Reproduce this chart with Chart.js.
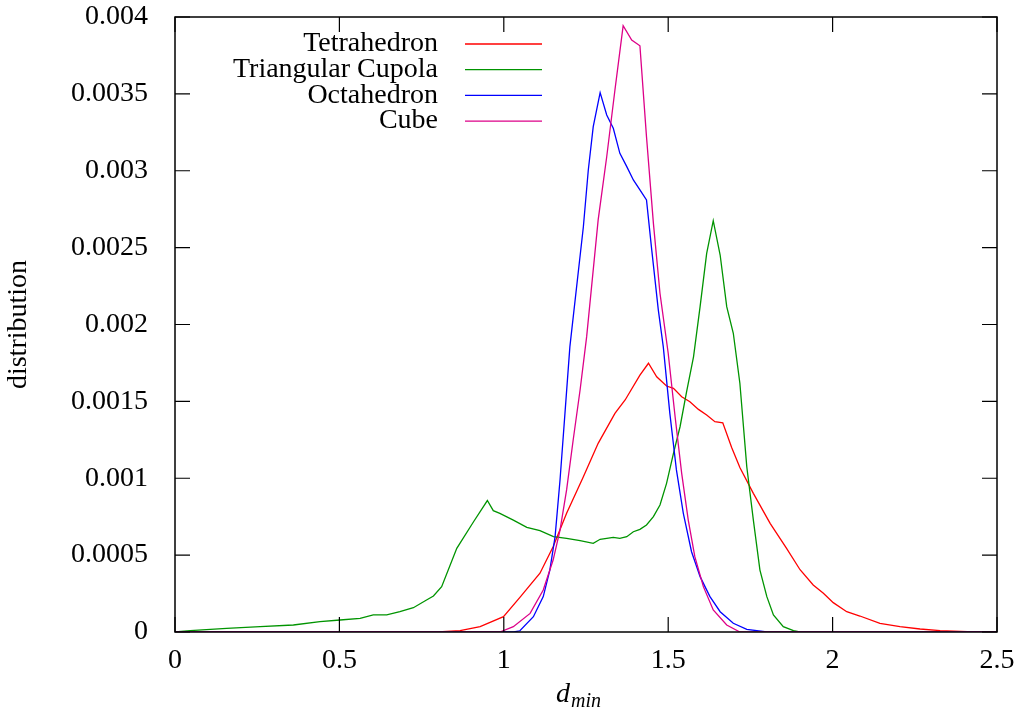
<!DOCTYPE html>
<html>
<head>
<meta charset="utf-8">
<script src="https://cdn.jsdelivr.net/npm/chart.js@4"></script>
<style>
  html, body { margin: 0; padding: 0; background: #fff; }
  canvas { display: block; }
</style>
</head>
<body>
<canvas id="chart" width="1021" height="713"></canvas>
<script>
// values
const tetraX = [0, 0.80, 0.867, 0.928, 0.999, 1.049, 1.110, 1.150, 1.191, 1.242, 1.287, 1.338, 1.369, 1.414, 1.440, 1.465, 1.495, 1.516, 1.541, 1.566, 1.592, 1.617, 1.642, 1.666, 1.693, 1.718, 1.759, 1.810, 1.860, 1.901, 1.941, 1.972, 2.002, 2.043, 2.083, 2.144, 2.205, 2.266, 2.327, 2.41, 2.5];
const tetraY = [0, 0, 0.0000085, 0.0000345, 0.0001, 0.000225, 0.000382, 0.000555, 0.000772, 0.00101, 0.001227, 0.001422, 0.001509, 0.001671, 0.001748, 0.00166, 0.0016, 0.001585, 0.00153, 0.001498, 0.001448, 0.001411, 0.001368, 0.001361, 0.0012, 0.00107, 0.000902, 0.000707, 0.000544, 0.000405, 0.000306, 0.000252, 0.000191, 0.000132, 0.000104, 0.0000566, 0.0000345, 0.0000195, 0.0000085, 0.000002, 0];

const cupolaX = [0, 0.046, 0.157, 0.259, 0.360, 0.441, 0.502, 0.563, 0.603, 0.644, 0.684, 0.725, 0.765, 0.786, 0.811, 0.857, 0.908, 0.950, 0.968, 0.988, 1.029, 1.070, 1.110, 1.151, 1.191, 1.232, 1.272, 1.293, 1.333, 1.353, 1.374, 1.394, 1.414, 1.434, 1.455, 1.475, 1.495, 1.516, 1.536, 1.556, 1.577, 1.597, 1.617, 1.637, 1.658, 1.678, 1.698, 1.718, 1.739, 1.759, 1.779, 1.800, 1.820, 1.850, 1.881, 1.90, 2.5];
const cupolaY = [0, 0.0000085, 0.000024, 0.0000345, 0.0000455, 0.000067, 0.000078, 0.000089, 0.000111, 0.000111, 0.000132, 0.000158, 0.000208, 0.000234, 0.000295, 0.000544, 0.000717, 0.000855, 0.000789, 0.000772, 0.000728, 0.000681, 0.000659, 0.00062, 0.000609, 0.000594, 0.000577, 0.000603, 0.000616, 0.000609, 0.00062, 0.000652, 0.000668, 0.000696, 0.00075, 0.000826, 0.000967, 0.001162, 0.001335, 0.001563, 0.00179, 0.002116, 0.002463, 0.002675, 0.002452, 0.002116, 0.001943, 0.001618, 0.001075, 0.000728, 0.000403, 0.00023, 0.000111, 0.0000345, 0.0000085, 0, 0];

const octaX = [0, 1.03, 1.049, 1.090, 1.120, 1.140, 1.156, 1.171, 1.186, 1.201, 1.242, 1.257, 1.272, 1.293, 1.313, 1.333, 1.353, 1.374, 1.394, 1.414, 1.434, 1.450, 1.470, 1.485, 1.505, 1.525, 1.546, 1.571, 1.597, 1.627, 1.658, 1.698, 1.739, 1.80, 2.5];
const octaY = [0, 0, 0.000008, 0.0000995, 0.00023, 0.000403, 0.00062, 0.000989, 0.001422, 0.001856, 0.002636, 0.003005, 0.003287, 0.003508, 0.003363, 0.003276, 0.003113, 0.003027, 0.00294, 0.002875, 0.00281, 0.002484, 0.002094, 0.001856, 0.001422, 0.001054, 0.000772, 0.000522, 0.00036, 0.00023, 0.000132, 0.0000566, 0.0000176, 0, 0];

const cubeX = [0, 0.988, 1.029, 1.080, 1.120, 1.150, 1.171, 1.191, 1.211, 1.232, 1.252, 1.287, 1.313, 1.338, 1.363, 1.389, 1.414, 1.434, 1.455, 1.475, 1.500, 1.521, 1.541, 1.561, 1.581, 1.607, 1.637, 1.678, 1.718, 2.5];
const cubeY = [0, 0, 0.0000345, 0.000121, 0.000273, 0.000468, 0.000663, 0.000924, 0.001249, 0.001574, 0.001921, 0.00268, 0.003091, 0.003525, 0.003943, 0.00385, 0.003813, 0.003221, 0.002658, 0.002203, 0.001813, 0.0014, 0.001032, 0.000728, 0.00049, 0.000295, 0.000143, 0.0000455, 0, 0];

const seriesNames = ['Tetrahedron', 'Triangular Cupola', 'Octahedron', 'Cube'];
const seriesColors = ['#ff0000', '#009400', '#0000ff', '#dd0088'];

const xTicks = [0, 0.5, 1, 1.5, 2, 2.5];
const yTicks = [0, 0.0005, 0.001, 0.0015, 0.002, 0.0025, 0.003, 0.0035, 0.004];

const FONT = '"Liberation Serif", "Times New Roman", serif';

const toPoints = (xs, ys) => xs.map((x, i) => ({ x, y: ys[i] }));
const allX = [tetraX, cupolaX, octaX, cubeX];
const allY = [tetraY, cupolaY, octaY, cubeY];

// gnuplot-ish frame, inward ticks, key and x label
const gnuplotDecor = {
  id: 'gnuplotDecor',
  afterDraw(chart) {
    const { ctx, chartArea: a, scales } = chart;
    const tl = 15;
    ctx.save();
    ctx.strokeStyle = '#000';
    ctx.lineWidth = 1.5;
    ctx.strokeRect(a.left, a.top, a.right - a.left, a.bottom - a.top);

    ctx.lineWidth = 1.2;
    ctx.beginPath();
    for (const v of xTicks) {
      const px = scales.x.getPixelForValue(v);
      ctx.moveTo(px, a.bottom); ctx.lineTo(px, a.bottom - tl);
      ctx.moveTo(px, a.top); ctx.lineTo(px, a.top + tl);
    }
    for (const v of yTicks) {
      const py = scales.y.getPixelForValue(v);
      ctx.moveTo(a.left, py); ctx.lineTo(a.left + tl, py);
      ctx.moveTo(a.right, py); ctx.lineTo(a.right - tl, py);
    }
    ctx.stroke();

    // key
    ctx.font = '28px ' + FONT;
    ctx.textAlign = 'right';
    ctx.textBaseline = 'middle';
    seriesNames.forEach((name, i) => {
      const y = 44 + i * 25.7;
      ctx.fillStyle = '#000';
      ctx.fillText(name, 438, y);
      ctx.strokeStyle = seriesColors[i];
      ctx.lineWidth = 1.3;
      ctx.beginPath();
      ctx.moveTo(465, y); ctx.lineTo(542, y);
      ctx.stroke();
    });

    // x label: d_min
    ctx.fillStyle = '#000';
    ctx.textAlign = 'left';
    ctx.textBaseline = 'alphabetic';
    ctx.font = 'italic 28px ' + FONT;
    ctx.fillText('d', 556, 702);
    ctx.font = 'italic 20px ' + FONT;
    ctx.fillText('min', 571, 707);
    ctx.restore();
  }
};

new Chart(document.getElementById('chart').getContext('2d'), {
  type: 'line',
  data: {
    datasets: seriesNames.map((name, i) => ({
      label: name,
      data: toPoints(allX[i], allY[i]),
      borderColor: seriesColors[i],
      borderWidth: 1.3,
      pointRadius: 0,
      tension: 0,
      fill: false,
      order: 4 - i,
    })),
  },
  options: {
    responsive: false,
    animation: false,
    devicePixelRatio: 1,
    layout: { padding: { top: 17, right: 24, left: 0, bottom: 0 } },
    plugins: { legend: { display: false }, tooltip: { enabled: false } },
    scales: {
      x: {
        type: 'linear',
        min: 0,
        max: 2.5,
        afterFit: s => { s.height = 81; s.paddingLeft = 0; s.paddingRight = 0; },
        afterBuildTicks: s => { s.ticks = xTicks.map(v => ({ value: v })); },
        grid: { display: false, drawTicks: false },
        border: { display: false },
        ticks: {
          color: '#000',
          padding: 12,
          maxRotation: 0,
          font: { family: FONT, size: 28 },
          callback: v => String(v),
        },
      },
      y: {
        type: 'linear',
        min: 0,
        max: 0.004,
        afterFit: s => { s.width = 175; s.paddingTop = 0; s.paddingBottom = 0; },
        afterBuildTicks: s => { s.ticks = yTicks.map(v => ({ value: v })); },
        grid: { display: false, drawTicks: false },
        border: { display: false },
        title: {
          display: true,
          text: 'distribution',
          color: '#000',
          font: { family: FONT, size: 28 },
          padding: { top: 2, bottom: 0 },
        },
        ticks: {
          color: '#000',
          padding: 27,
          font: { family: FONT, size: 28 },
          callback: v => String(+v.toFixed(4)),
        },
      },
    },
  },
  plugins: [gnuplotDecor],
});
</script>
</body>
</html>
